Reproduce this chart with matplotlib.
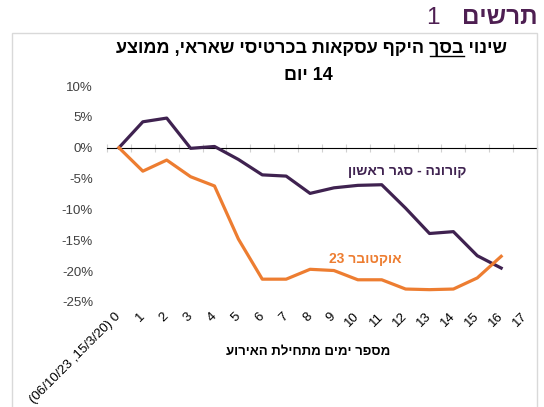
import matplotlib
matplotlib.use('Agg')
import matplotlib.pyplot as plt
from matplotlib.patches import Rectangle
from matplotlib.lines import Line2D

# נתונים - שינוי באחוזים לפי יום מתחילת האירוע
days = list(range(17))
corona = [0, 4.2, 4.8, -0.1, 0.2, -1.9, -4.4, -4.6, -7.4, -6.5, -6.1, -6.0,
          -9.8, -13.9, -13.6, -17.5, -19.5]
october = [0, -3.8, -2.0, -4.7, -6.2, -14.8, -21.3, -21.3, -19.7, -19.9, -21.4,
           -21.4, -22.9, -23.0, -22.9, -21.1, -17.6]
xlabels = ['(06/10/23 ,15/3/20) 0'] + [str(i) for i in range(1, 18)]
yticks = [10, 5, 0, -5, -10, -15, -20, -25]

purple = '#3F2250'
orange = '#ED7D31'
title_purple = '#4E1F52'
txt = '#404040'

plt.rcParams['font.family'] = ['Liberation Sans', 'DejaVu Sans']

fig = plt.figure(figsize=(5.44, 4.07), dpi=100)
W, H = 544, 407

# מסגרת
fig.patches.append(Rectangle((12 / W, -0.05), 525 / W, 1.05 - 33 / H,
                             transform=fig.transFigure, fill=False,
                             edgecolor='#D9D9D9', linewidth=1))

ax = fig.add_axes([107 / W, 1 - 302 / H, 430 / W, 216 / H])
ax.plot(days, corona, color=purple, linewidth=2.3)
ax.plot(days, october, color=orange, linewidth=2.3)

ax.set_xlim(-0.5, 17.5)
ax.set_ylim(-25, 10)
for s in ax.spines.values():
    s.set_visible(False)

ax.set_yticks(yticks)
ax.set_yticklabels(['%d%%' % v for v in yticks], fontsize=9.5, color=txt)
ax.tick_params(axis='y', length=0, pad=10)

ax.set_xticks(range(18))
ax.set_xticklabels(xlabels, rotation=45, ha='right', va='center',
                   rotation_mode='anchor', fontsize=9.5, color='black')
ax.tick_params(axis='x', length=0, pad=9)

# קו האפס עם שנתות
zero = ax.secondary_xaxis(25 / 35)
zero.spines['bottom'].set_color('#D0D0D0')
zero.spines['bottom'].set_linewidth(1.2)
zero.set_xticks([i + 0.5 for i in range(-1, 18)])
zero.set_xticklabels([])
zero.tick_params(axis='x', direction='inout', length=6, color='#D0D0D0')

ax.text(12.06, -3.8, 'ןושאר רגס - הנורוק', color=purple, fontsize=10,
        fontweight='bold', ha='center', va='center')
ax.text(10.3, -18.1, '23 רבוטקוא', color=orange, fontsize=10,
        fontweight='bold', ha='center', va='center')

fig.text(308 / W, 1 - 352 / H, 'עוריאה תליחתמ םימי רפסמ', fontsize=9.5,
         fontweight='bold', ha='center', va='center')

# כותרות
line1 = 'עצוממ ,יאראש יסיטרכב תואקסע ףקיה ךסב יוניש'
t1 = fig.text(312 / W, 1 - 48 / H, line1, fontsize=13, fontweight='bold',
              ha='center', va='center')
fig.text(308 / W, 1 - 75 / H, 'םוי 14', fontsize=13, fontweight='bold',
         ha='center', va='center')

fig.text(537 / W, 1 - 18 / H, 'םישרת', fontsize=17.5, fontweight='bold',
         color=title_purple, ha='right', va='center')
fig.text(440 / W, 1 - 18 / H, '1', fontsize=17.5, color=title_purple,
         ha='right', va='center')

# קו תחתון מתחת ל"בסך"
fig.canvas.draw()
r = fig.canvas.get_renderer()


def width_of(s):
    tmp = fig.text(0, 0, s, fontsize=13, fontweight='bold')
    w = tmp.get_window_extent(r).width
    tmp.remove()
    return w


bb = t1.get_window_extent(r)
left = bb.x1 - width_of('ךסב יוניש')
right = left + width_of('ךסב')
uy = bb.y0 + 1
fig.lines.append(Line2D([left / W, right / W], [uy / H, uy / H],
                        transform=fig.transFigure, color='black',
                        linewidth=1))

fig.savefig('out.png', dpi=100)
